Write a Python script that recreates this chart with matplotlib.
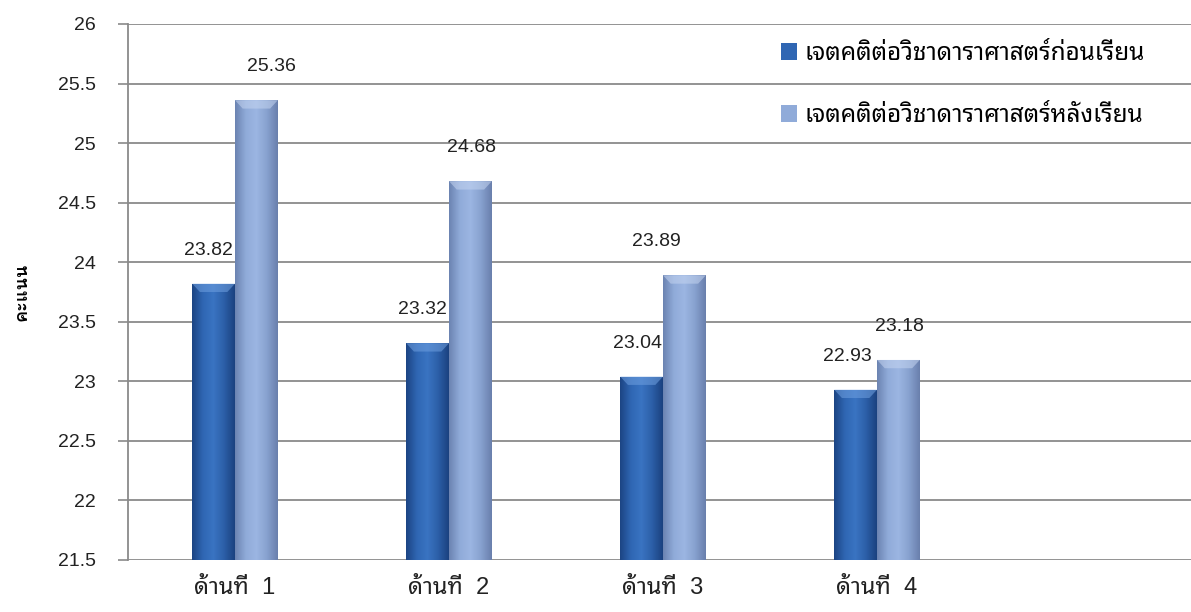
import numpy as np
import matplotlib
matplotlib.use("Agg")
from matplotlib import pyplot as plt
from matplotlib.colors import LinearSegmentedColormap

plt.rcParams['font.family'] = ['Liberation Sans', 'Noto Sans Thai Looped']

# scores per aspect, before and after learning
categories = ['ด้านที่  1', 'ด้านที่  2', 'ด้านที่  3', 'ด้านที่  4']
before = [23.82, 23.32, 23.04, 22.93]
after = [25.36, 24.68, 23.89, 23.18]
series_names = ['เจตคติต่อวิชาดาราศาสตร์ก่อนเรียน', 'เจตคติต่อวิชาดาราศาสตร์หลังเรียน']
y_ticks = [21.5, 22, 22.5, 23, 23.5, 24, 24.5, 25, 25.5, 26]

# small sideways nudges (points) for the value labels
nudge_before = [-4, -4, -3, -6]
nudge_after = [11, 1, -20, 1]

dark_cmap = LinearSegmentedColormap.from_list(
    'dark', ['#1c4584', '#2f66b3', '#3a74c2', '#2c5fa8', '#1b4280'])
light_cmap = LinearSegmentedColormap.from_list(
    'light', ['#6c84b2', '#90abd9', '#9cb6e2', '#87a1cf', '#6a80ad'])


def shade_bars(ax, bars, cmap, top_color):
    grad = np.linspace(0, 1, 64).reshape(1, -1)
    for b in bars:
        x0, y0 = b.get_x(), b.get_y()
        w, h = b.get_width(), b.get_height()
        im = ax.imshow(grad, cmap=cmap, aspect='auto', zorder=3,
                       extent=(x0, x0 + w, y0, y0 + h), interpolation='bilinear')
        im.set_clip_path(b)
        # lighter bevel along the top edge
        ax.fill([x0, x0 + w, x0 + w * 0.82, x0 + w * 0.18],
                [y0 + h, y0 + h, y0 + h - 0.07, y0 + h - 0.07],
                color=top_color, alpha=0.55, zorder=4, lw=0)


fig = plt.figure(figsize=(11.91, 6.12), dpi=100)
ax = fig.add_axes([128 / 1191, 1 - 560 / 612, 1 - 128 / 1191, (560 - 24) / 612])

base = y_ticks[0]
x = np.arange(len(categories))
width = 0.2
bars_b = ax.bar(x - width / 2, np.array(before) - base, width, bottom=base,
                color='#2f66b3', label=series_names[0], zorder=2)
bars_a = ax.bar(x + width / 2, np.array(after) - base, width, bottom=base,
                color='#90abd9', label=series_names[1], zorder=2)
shade_bars(ax, bars_b, dark_cmap, '#6fa0e0')
shade_bars(ax, bars_a, light_cmap, '#c4d4f0')

for bars, vals, nudges in [(bars_b, before, nudge_before), (bars_a, after, nudge_after)]:
    for b, v, dx in zip(bars, vals, nudges):
        ax.annotate(f'{v:.2f}', (b.get_x() + b.get_width() / 2, v),
                    xytext=(dx, 24), textcoords='offset points',
                    ha='center', va='center', fontsize=14, color='#222222', zorder=5)

ax.set_ylim(21.5, 26)
ax.set_xlim(-0.5, 4.467)
ax.set_yticks(y_ticks)
ax.set_yticklabels([f'{t:g}' for t in y_ticks], fontsize=14, color='#222222')
ax.set_xticks(x)
ax.set_xticklabels(categories, fontsize=17, color='#222222')
ax.tick_params(axis='y', direction='out', length=7, width=1.2, color='#8a8a8a', pad=16)
ax.tick_params(axis='x', length=0, pad=12)

ax.yaxis.grid(True, color='#8a8a8a', linewidth=1.3, zorder=0)
ax.set_axisbelow(True)
for side in ['top', 'right', 'bottom']:
    ax.spines[side].set_visible(False)
ax.spines['left'].set_color('#8a8a8a')
ax.spines['left'].set_linewidth(1.3)

# Loma has a bold face for the axis title
ax.set_ylabel('คะแนน', fontsize=13, fontweight='bold', labelpad=20,
              family=['Liberation Sans', 'Loma'])

ax.legend(loc='upper left', bbox_to_anchor=(781 / 1191, 1 - 43 / 612),
          bbox_transform=fig.transFigure, frameon=False, fontsize=17.5,
          handlelength=0.65, handleheight=0.65, handletextpad=0.3,
          labelspacing=1.65, borderpad=0, borderaxespad=0)

fig.savefig('out.png', dpi=100)
